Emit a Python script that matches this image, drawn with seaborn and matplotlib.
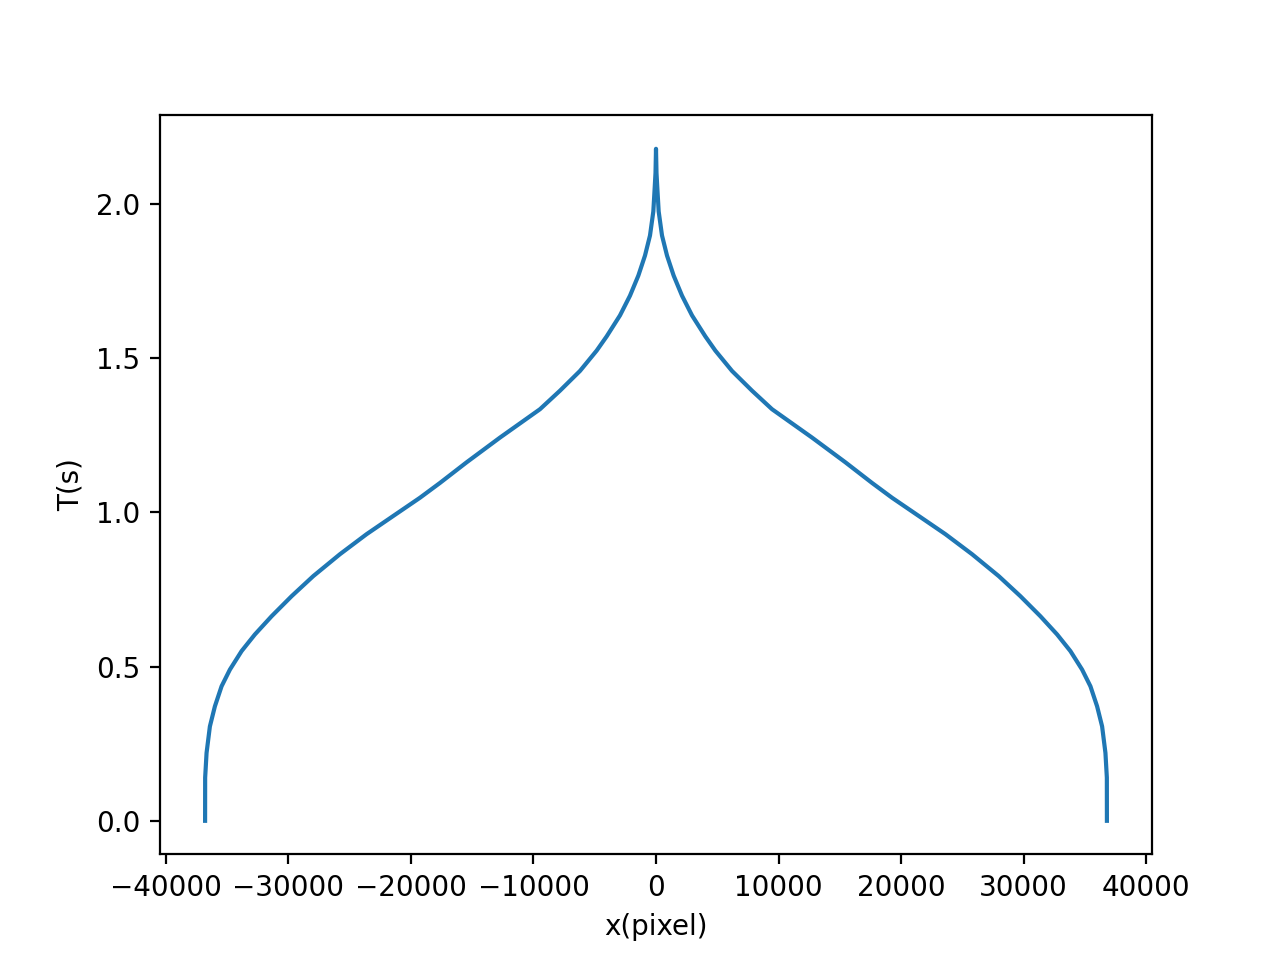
import numpy as np
import pandas as pd
import matplotlib
matplotlib.use("Agg")
import matplotlib.pyplot as plt
import seaborn as sns

# values (left branch, then right branch)
x_pixel = [-36800, -36795, -36680, -36408, -36000, -35455, -34776, -33822,
           -32735, -31372, -29739, -27973, -25796, -23619, -21444, -19265,
           -17633, -15453, -12735, -11102, -9469, -7837, -6204, -4841,
           -4027, -2939, -2122, -1441, -898, -490, -218, -109, -40, 0,
           40, 109, 218, 490, 898, 1441, 2122, 2939, 4027,
           4841, 6204, 7837, 9469, 11102, 12735, 15453, 17633,
           19265, 21444, 23619, 25796, 27973, 29739, 31372, 32735,
           33822, 34776, 35455, 36000, 36408, 36680, 36795, 36800]
t_sec = [0.00, 0.14, 0.22, 0.306, 0.371, 0.436, 0.490, 0.550,
         0.604, 0.663, 0.728, 0.793, 0.864, 0.929, 0.988, 1.047,
         1.095, 1.162, 1.242, 1.288, 1.334, 1.394, 1.458, 1.524,
         1.570, 1.638, 1.702, 1.767, 1.832, 1.897, 1.975, 2.05, 2.10, 2.178,
         2.10, 2.05, 1.975, 1.897, 1.832, 1.767, 1.702, 1.638, 1.570,
         1.524, 1.458, 1.394, 1.334, 1.288, 1.242, 1.162, 1.095,
         1.047, 0.988, 0.929, 0.864, 0.793, 0.728, 0.663, 0.604,
         0.550, 0.490, 0.436, 0.371, 0.306, 0.22, 0.14, 0.00]

df = pd.DataFrame({"x": x_pixel, "T": t_sec})

fig, ax = plt.subplots(figsize=(6.4, 4.8), dpi=200)
sns.lineplot(data=df, x="x", y="T", sort=False, errorbar=None,
             color="#1f77b4", linewidth=1.5, ax=ax)
ax.set_xlabel("x(pixel)")
ax.set_ylabel("T(s)")
fig.savefig("out.png", dpi=200)
